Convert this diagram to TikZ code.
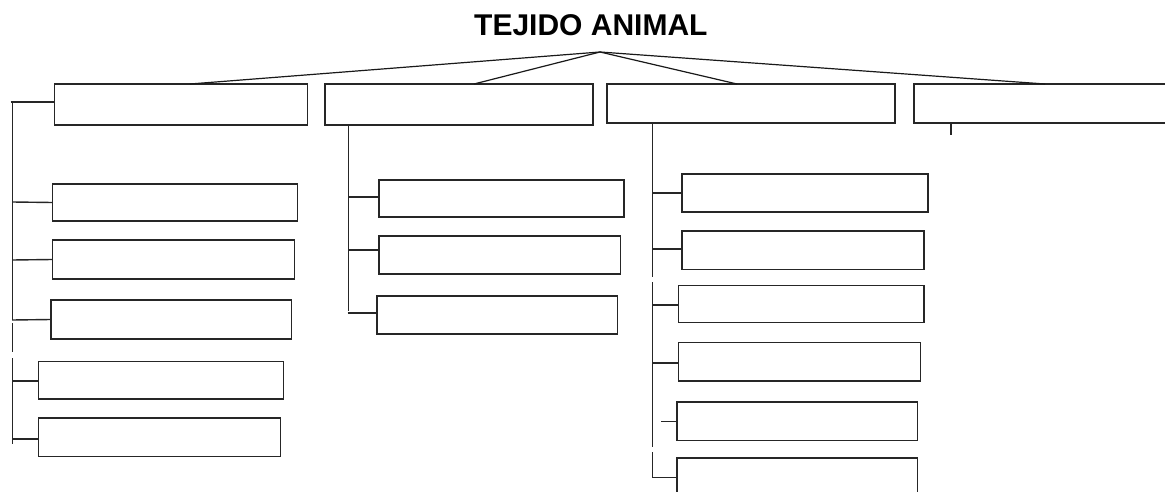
\documentclass[tikz,border=0pt]{standalone}
\usepackage{fontspec}
\setmainfont{Liberation Sans}
\begin{document}
\begin{tikzpicture}[x=1pt,y=-1pt,
  box/.style={draw=black!85,line width=1.5pt,rectangle,inner sep=0pt,outer sep=0pt,anchor=north west},
  link/.style={draw=black!85,line width=1.4pt},
  fan/.style={draw=black!90,line width=1.2pt}]
\useasboundingbox (0,0) rectangle (1165,492);
\clip (0,0) rectangle (1165,492);
% title
\node[inner sep=0pt,anchor=base west,font=\bfseries\fontsize{30}{36}\selectfont] (title) at (474,36) {TEJIDO ANIMAL};
\coordinate (apex) at (600,52);
% top level boxes
\node[box,minimum width=253,minimum height=41] (A) at (54.3,84) {};
\node[box,minimum width=268,minimum height=41] (B) at (325,84) {};
\node[box,minimum width=288,minimum height=39] (C) at (607,84) {};
\node[box,minimum width=300,minimum height=39] (D) at (914,84) {};
% fan lines
\draw[fan] (apex) -- (A.north west -| 190,0);
\draw[fan] (apex) -- (B.north west -| 474,0);
\draw[fan] (apex) -- (C.north west -| 737,0);
\draw[fan] (apex) -- (D.north west -| 1045,0);
% left column children
\node[box,minimum width=245.3,minimum height=37] (A1) at (52.4,184) {};
\node[box,minimum width=242.3,minimum height=39] (A2) at (52.4,240) {};
\node[box,minimum width=240.6,minimum height=39] (A3) at (51,300) {};
\node[box,minimum width=245.3,minimum height=37.3] (A4) at (38.3,361.7) {};
\node[box,minimum width=242.2,minimum height=38.7] (A5) at (38.3,418) {};
\coordinate (at) at (12.2,102);
\draw[link] (10.5,102) -- (A.west |- at);
\draw[link] (at) -- (12.2,320);
\draw[link] (12.2,323) -- (12.2,352);
\draw[link] (12.2,358) -- (12.2,444);
\draw[link] (12.2,202) -- (A1.west);
\draw[link] (12.2,260) -- (A2.west);
\draw[link] (12.2,320) -- (A3.west);
\draw[link] (12.2,381) -- (A4.west |- 0,381);
\draw[link] (12.2,439) -- (A5.west |- 0,439);
% middle column children
\node[box,minimum width=245,minimum height=37] (B1) at (379,180) {};
\node[box,minimum width=241.3,minimum height=38] (B2) at (379,236) {};
\node[box,minimum width=240.3,minimum height=38] (B3) at (377,296) {};
\draw[link] (B.south west -| 348.3,0) -- (348.3,311);
\draw[link] (347.5,313) -- (B3.west |- 0,313);
\draw[link] (348.3,197) -- (B1.west |- 0,197);
\draw[link] (348.3,250) -- (B2.west |- 0,250);
% right column children
\node[box,minimum width=246.2,minimum height=38] (C1) at (681.8,174) {};
\node[box,minimum width=242.2,minimum height=38.3] (C2) at (681.8,231) {};
\node[box,minimum width=245.5,minimum height=37] (C3) at (678.5,285.7) {};
\node[box,minimum width=242,minimum height=38.7] (C4) at (678.5,342.3) {};
\node[box,minimum width=240.6,minimum height=38.7] (C5) at (677,402) {};
\node[box,minimum width=240.6,minimum height=39] (C6) at (677,458) {};
\draw[link] (C.south west -| 652.7,0) -- (652.7,276.7);
\draw[link] (652.7,282.3) -- (652.7,446.7);
\draw[link] (652.7,452) -- (652.7,477.7) -- (C6.west |- 0,477.7);
\draw[link] (652.7,193) -- (C1.west |- 0,193);
\draw[link] (652.7,249) -- (C2.west |- 0,249);
\draw[link] (652.7,305) -- (C3.west |- 0,305);
\draw[link] (652.7,363) -- (C4.west |- 0,363);
\draw[link] (661.3,421.3) -- (C5.west |- 0,421.3);
% tick under fourth box
\draw[link] (D.south west -| 951,0) -- (951,135);
\end{tikzpicture}
\end{document}
